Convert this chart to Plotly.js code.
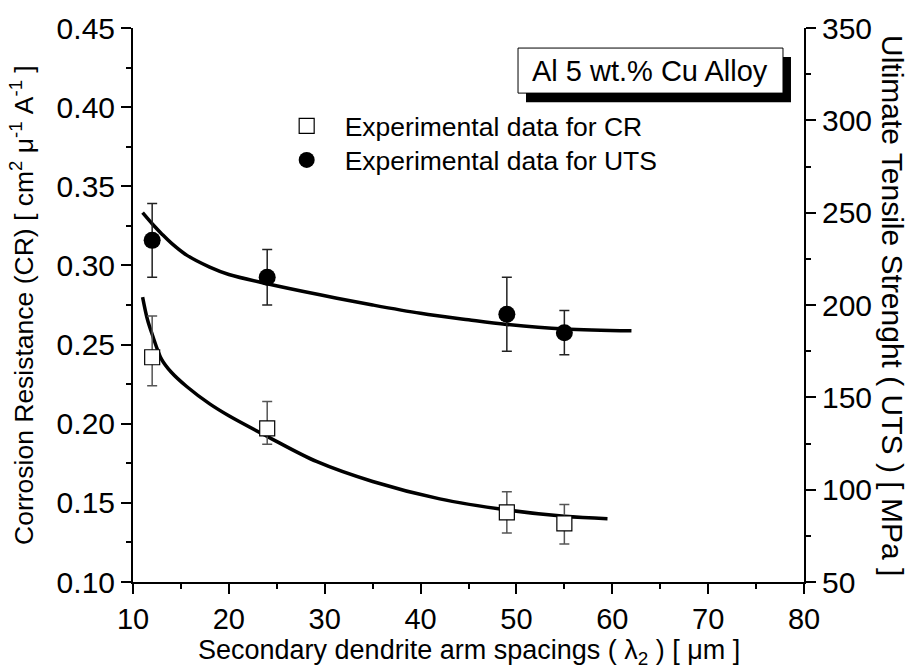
<!DOCTYPE html>
<html><head><meta charset="utf-8">
<script src="https://cdn.plot.ly/plotly-3.0.1.min.js"></script>
<style>html,body{margin:0;padding:0;background:#fff}#chart{width:912px;height:670px}</style>
</head><body><div id="chart"></div>
<script>
// Experimental points
const spacing = [12, 24, 49, 55];
const crValues = [0.242, 0.197, 0.144, 0.137];
const crErrPlus = [0.026, 0.017, 0.013, 0.012];
const crErrMinus = [0.018, 0.010, 0.013, 0.013];
const utsValues = [235, 215, 195, 185];
const utsErrPlus = [20, 15, 20, 12];
const utsErrMinus = [20, 15, 20, 12];
// Fitted curves
const crFitX = [11.0, 11.5, 12.0, 13.0, 14.0, 15.6, 18.0, 20.0, 24.0, 29.2, 35.0, 42.0, 49.0, 55.0, 59.5];
const crFitY = [0.280, 0.266, 0.2565, 0.2405, 0.2325, 0.2235, 0.2125, 0.205, 0.192, 0.176, 0.1635, 0.1525, 0.1455, 0.1415, 0.140];
const utsFitX = [11.0, 12.0, 13.0, 14.0, 15.6, 18.0, 20.0, 24.0, 29.5, 35.0, 40.0, 45.0, 49.0, 55.0, 62.0];
const utsFitY = [250, 244, 238.5, 233.5, 227, 220.5, 216.5, 211.5, 205.5, 200, 195.5, 192, 189.5, 187, 186];
const xTicks = [10, 20, 30, 40, 50, 60, 70, 80];

const F = 'Arial, "Liberation Sans", sans-serif';
const FN = '"Liberation Sans Narrow", "Arial Narrow", Arial, sans-serif';

const traces = [
  {x: crFitX, y: crFitY, mode: 'lines', line: {color: '#000', width: 3.5, shape: 'spline'}, showlegend: false, hoverinfo: 'skip'},
  {x: utsFitX, y: utsFitY, yaxis: 'y2', mode: 'lines', line: {color: '#000', width: 3.5, shape: 'spline'}, showlegend: false, hoverinfo: 'skip'},
  {x: spacing, y: crValues, mode: 'markers', name: 'Experimental data for CR', legend: 'legend',
   marker: {symbol: 'square', size: 15, color: '#fff', line: {width: 1.2, color: '#000'}},
   error_y: {type: 'data', array: crErrPlus, arrayminus: crErrMinus, color: '#555', thickness: 1.5, width: 5}},
  {x: spacing, y: utsValues, yaxis: 'y2', mode: 'markers', name: 'Experimental data for UTS', legend: 'legend2',
   marker: {symbol: 'circle', size: 17, color: '#000'},
   error_y: {type: 'data', array: utsErrPlus, arrayminus: utsErrMinus, color: '#222', thickness: 1.5, width: 5}}
];

const axCommon = {showline: true, linecolor: '#000', linewidth: 2, showgrid: false, zeroline: false,
  ticks: 'outside', tickwidth: 2, tickcolor: '#000', ticklen: 10};
const minorOut = {ticklen: 5, tickwidth: 2, tickcolor: '#000', ticks: 'outside'};

const layout = {
  width: 912, height: 670,
  margin: {l: 133, r: 108, t: 28, b: 88},
  paper_bgcolor: '#fff', plot_bgcolor: 'rgba(0,0,0,0)',
  font: {family: F, color: '#000', size: 26},
  xaxis: Object.assign({}, axCommon, {range: [10, 80], tickvals: xTicks, ticktext: xTicks.map(String),
    minor: Object.assign({dtick: 5}, minorOut), ticklabelstandoff: 0,
    tickfont: {family: FN, size: 29}}),
  xaxis2: {overlaying: 'x', side: 'top', matches: 'x', range: [10, 80], showline: true, linecolor: '#000', linewidth: 2,
    showgrid: false, zeroline: false, ticks: 'inside', tickwidth: 2, tickcolor: '#000', ticklen: 10, dtick: 10, tick0: 10,
    showticklabels: false, minor: {dtick: 5, ticklen: 5, tickwidth: 2, tickcolor: '#000', ticks: 'inside'}},
  yaxis: Object.assign({}, axCommon, {range: [0.10, 0.45], dtick: 0.05, tick0: 0.10, tickformat: '.2f',
    minor: Object.assign({dtick: 0.025}, minorOut), tickfont: {family: F, size: 30}}),
  yaxis2: Object.assign({}, axCommon, {overlaying: 'y', side: 'right', range: [50, 350], dtick: 50, tick0: 50,
    minor: Object.assign({dtick: 25}, minorOut), tickfont: {family: F, size: 30}}),
  legend: {x: 0.2022, y: 0.8228, xanchor: 'left', yanchor: 'middle', itemwidth: 66, bgcolor: 'rgba(0,0,0,0)', font: {size: 26.5, family: F}},
  legend2: {x: 0.2022, y: 0.7613, xanchor: 'left', yanchor: 'middle', itemwidth: 66, bgcolor: 'rgba(0,0,0,0)', font: {size: 26.5, family: F}},
  shapes: [
    {type: 'rect', xref: 'paper', yref: 'paper', x0: 0.5857, x1: 0.9806, y0: 0.8662, y1: 0.9476, fillcolor: '#000', line: {width: 0}, layer: 'above'},
    {type: 'rect', xref: 'paper', yref: 'paper', x0: 0.5738, x1: 0.9687, y0: 0.8825, y1: 0.9638, fillcolor: '#fff', line: {width: 1, color: '#000'}, layer: 'above'}
  ],
  annotations: [
    {text: 'Al 5 wt.% Cu Alloy', xref: 'paper', yref: 'paper', x: 0.7712, y: 0.9231, showarrow: false, font: {size: 29, family: F}, xanchor: 'center', yanchor: 'middle'},
    {text: 'Ultimate Tensile Strenght ( UTS ) [ MPa ]', xref: 'paper', yref: 'paper', x: 1, y: 0.5, xshift: 89, textangle: 90, showarrow: false, font: {size: 30, family: F}, xanchor: 'center', yanchor: 'middle'},
    {text: 'Corrosion Resistance (CR) [ cm<sup>2</sup> μ<sup>-1</sup> A<sup>-1</sup> ]', xref: 'paper', yref: 'paper', x: 0, y: 0.5, xshift: -111, textangle: -90, showarrow: false, font: {size: 26.5, family: FN}, xanchor: 'center', yanchor: 'middle'},
    {text: 'Secondary dendrite arm spacings ( λ<sub>2</sub> ) [ μm ]', xref: 'paper', yref: 'paper', x: 0.5, y: 0, yshift: -70, showarrow: false, font: {size: 27, family: FN}, xanchor: 'center', yanchor: 'middle'}
  ]
};

Plotly.newPlot('chart', traces, layout, {displayModeBar: false, staticPlot: true});
</script></body></html>
